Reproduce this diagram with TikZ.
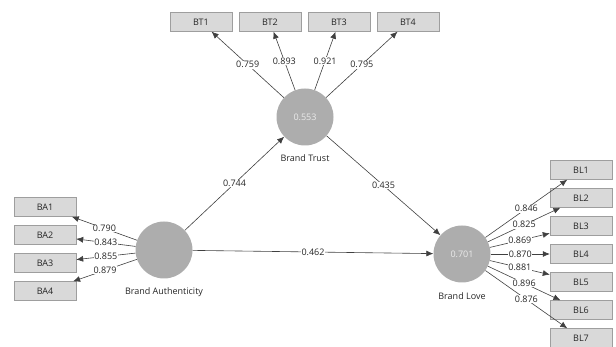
\documentclass[tikz,border=0pt]{standalone}
\usepackage{fontspec}
\setmainfont{Open Sans}
\usetikzlibrary{arrows.meta}

\tikzset{
  construct/.style={circle,fill=black!32,minimum size=57pt,inner sep=0pt,
    text=white!92!black},
  indicator/.style={draw=black!38,fill=black!15,minimum width=62pt,
    minimum height=19pt,inner sep=0pt,text=black!85},
  link/.style={draw=black!75,line width=0.6pt,-{Latex[length=7pt,width=6pt]}},
  loading/.style={fill=white,inner sep=0.6pt,text=black!85},
  caption/.style={text=black!85}
}

\begin{document}
\begin{tikzpicture}[x=1pt,y=-1pt,font=\fontsize{9}{11}\selectfont]
  \useasboundingbox (0,0) rectangle (616,347);

  % latent variables
  \node[construct,label={[caption,label distance=5pt]below:Brand Trust}] (BT) at (305,117) {0.553};
  \node[construct,label={[caption,label distance=5pt]below:Brand Authenticity}] (BA) at (164,250) {};
  \node[construct,label={[caption,label distance=6pt]below:Brand Love}] (BL) at (462,254) {0.701};

  % indicators
  \foreach \i/\x in {1/201,2/270,3/339,4/408} {%
    \node[indicator] (BT\i) at (\x,22) {BT\i};
  }
  \foreach \i in {1,...,4} {%
    \node[indicator] (BA\i) at (45,{207 + 28*(\i - 1)}) {BA\i};
  }
  \foreach \i in {1,...,7} {%
    \node[indicator] (BL\i) at (581,{170 + 28*(\i - 1)}) {BL\i};
  }

  % outer loadings
  \foreach \i/\l in {1/0.759,2/0.893,3/0.921,4/0.795} {%
    \draw[link] (BT) -- node[loading] (lBT\i) {\l} (BT\i);
  }
  \foreach \i/\l in {1/0.790,2/0.843,3/0.855,4/0.879} {%
    \draw[link] (BA) -- node[loading] (lBA\i) {\l} (BA\i);
  }
  \foreach \i/\l in {1/0.846,2/0.825,3/0.869,4/0.870,5/0.881,6/0.896,7/0.876} {%
    \draw[link] (BL) -- node[loading] (lBL\i) {\l} (BL\i);
  }

  % path coefficients
  \draw[link] (BA) -- node[loading] (pBABT) {0.744} (BT);
  \draw[link] (BT) -- node[loading] (pBTBL) {0.435} (BL);
  \draw[link] (BA) -- node[loading] (pBABL) {0.462} (BL);
\end{tikzpicture}
\end{document}
